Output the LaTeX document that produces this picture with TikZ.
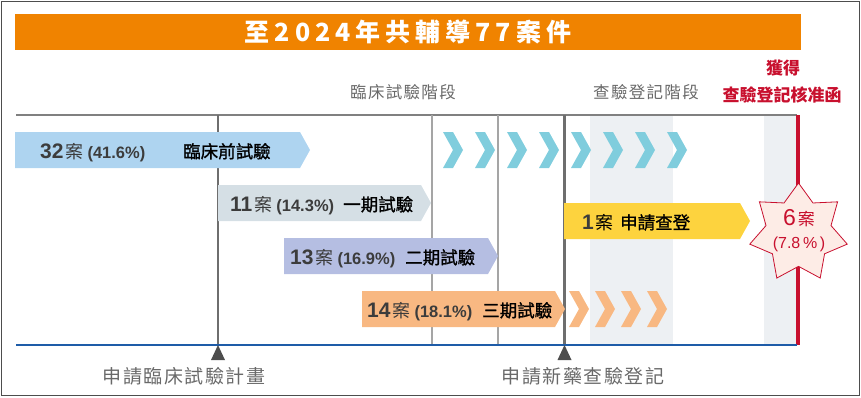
\documentclass[tikz,border=0pt]{standalone}
\usepackage{fontspec}
\setmainfont{Liberation Sans}
\newfontfamily\cjk{Noto Sans CJK TC}
\newfontfamily\cjkmed[FakeBold=1.2]{Noto Sans CJK TC}
\newfontfamily\cjksp[LetterSpace=8]{Noto Sans CJK TC}
\newfontfamily\cjktitle[LetterSpace=20]{Noto Sans CJK TC}
\usetikzlibrary{shapes.geometric}

\definecolor{titleorange}{RGB}{240,131,0}
\definecolor{linegray}{RGB}{128,128,128}
\definecolor{darkline}{RGB}{110,110,110}
\definecolor{lightline}{RGB}{165,165,165}
\definecolor{baseblue}{RGB}{30,92,168}
\definecolor{approvered}{RGB}{200,16,46}
\definecolor{bandgray}{RGB}{237,240,243}
\definecolor{preblue}{RGB}{174,212,240}
\definecolor{p1gray}{RGB}{213,223,229}
\definecolor{p2purple}{RGB}{181,190,226}
\definecolor{p3orange}{RGB}{248,184,130}
\definecolor{ndayellow}{RGB}{253,211,62}
\definecolor{chevcyan}{RGB}{128,205,221}
\definecolor{starpink}{RGB}{253,236,230}
\definecolor{numgray}{RGB}{60,60,60}
\definecolor{stagegray}{RGB}{105,105,105}
\definecolor{markgray}{RGB}{77,77,77}

\tikzset{
  cnt/.style={anchor=base west, inner sep=0pt, text=numgray},
  phase/.style={anchor=base west, inner sep=0pt, text=black, font=\cjkmed\fontsize{17.5}{17.5}\selectfont},
  stage/.style={inner sep=0pt, text=stagegray, font=\cjksp\fontsize{16.5}{16.5}\selectfont},
  milestone/.style={inner sep=0pt, text=stagegray, font=\cjksp\fontsize{19}{19}\selectfont},
  redtext/.style={inner sep=0pt, text=approvered, font=\cjk\bfseries\fontsize{17}{17}\selectfont}
}

% case count: number, percentage
\newcommand{\casecount}[2]{{\fontsize{21}{21}\selectfont\bfseries #1}\hspace{2pt}{\cjk\fontsize{18}{18}\selectfont 案}\hspace{4pt}{\fontsize{16.5}{16.5}\selectfont\bfseries (#2\%)}}
% bar with pointed end: x start, x tip, y centre, colour
\newcommand{\phasebar}[4]{\fill[#4] (#1,#3-18) -- (#2-10,#3-18) -- (#2,#3) -- (#2-10,#3+18) -- (#1,#3+18) -- cycle;}
% chevron: x left, y centre, colour
\newcommand{\chev}[3]{\fill[#3] (#1,#2-18) -- ++(10,0) -- ++(10,18) -- ++(-10,18) -- ++(-10,0) -- ++(10,-18) -- cycle;}

\begin{document}
\begin{tikzpicture}[x=1pt,y=-1pt]
\useasboundingbox (0,0) rectangle (861,397);
\draw[markgray, line width=1pt] (1.5,1.5) rectangle (859.5,395.5);

% title
\fill[titleorange] (15,14) rectangle (801,50);
\node[inner sep=0pt, text=white, font=\cjktitle\bfseries\fontsize{25}{25}\selectfont] (title) at (408,32) {至2024年共輔導77案件};

% stage headings
\node[stage] (clin) at (403,92) {臨床試驗階段};
\node[stage] (nda) at (646,92) {查驗登記階段};
\node[redtext] (get) at (783,68) {獲得};
\node[redtext] (lic) at (782,95) {查驗登記核准函};

% shaded bands
\fill[bandgray] (590,115) rectangle (673,345);
\fill[bandgray] (764,115) rectangle (798,345);

% frame lines
\draw[linegray, line width=1.5pt] (16,115) -- (797,115);
\draw[darkline, line width=2pt] (218,115) -- (218,345);
\draw[lightline, line width=1.5pt] (432,115) -- (432,345);
\draw[lightline, line width=1.5pt] (498,115) -- (498,345);
\draw[darkline, line width=2.5pt] (564.5,115) -- (564.5,345);
\draw[approvered, line width=3.5pt] (798,115) -- (798,345);
\draw[baseblue, line width=1.5pt] (16,345) -- (797,345);

% bars
\phasebar{15}{310}{150}{preblue}
\phasebar{218}{431}{203}{p1gray}
\phasebar{284}{498}{256}{p2purple}
\phasebar{362}{565}{309}{p3orange}
\phasebar{564}{750}{221}{ndayellow}

\foreach \x in {443,475,507,539,571,603,635,667}{\chev{\x}{150}{chevcyan}}
\foreach \x in {569,595,621,647}{\chev{\x}{309}{p3orange}}

% bar texts
\node[cnt] (pre) at (40,158) {\casecount{32}{41.6}};
\node[phase] (prename) at (183,158) {臨床前試驗};
\node[cnt] (ph1) at (230,211) {\casecount{11}{14.3}};
\node[phase] (ph1name) at (343,211) {一期試驗};
\node[cnt] (ph2) at (290,264) {\casecount{13}{16.9}};
\node[phase] (ph2name) at (405,264) {二期試驗};
\node[cnt] (ph3) at (367,317) {\casecount{14}{18.1}};
\node[phase] (ph3name) at (482,317) {三期試驗};
\node[cnt] (nd) at (582,229) {{\fontsize{21}{21}\selectfont\bfseries 1}\hspace{2pt}{\cjk\fontsize{18}{18}\selectfont\color{black} 案}};
\node[phase] (ndname) at (620,229) {申請查登};

% approved
\node[star, star points=7, star point ratio=1.5, minimum size=100pt, inner sep=0pt,
      fill=starpink, draw=approvered, line width=0.8pt] (win) at (798.5,233) {};
\node[anchor=base, inner sep=0pt, text=approvered] (winnum) at (799,225)
  {{\fontsize{23}{23}\selectfont 6}\hspace{2pt}{\cjk\fontsize{17}{17}\selectfont 案}};
\node[anchor=base, inner sep=0pt, text=approvered, font=\fontsize{16}{16}\selectfont] (winpct) at (799,248) {(7.8\,\%\,)};

% milestones
\fill[markgray] (218,345) -- (225,360) -- (211,360) -- cycle;
\fill[markgray] (564.5,345) -- (571.5,360) -- (557.5,360) -- cycle;
\node[milestone] (ind) at (184,376) {申請臨床試驗計畫};
\node[milestone] (ndareq) at (583,376) {申請新藥查驗登記};
\end{tikzpicture}
\end{document}
